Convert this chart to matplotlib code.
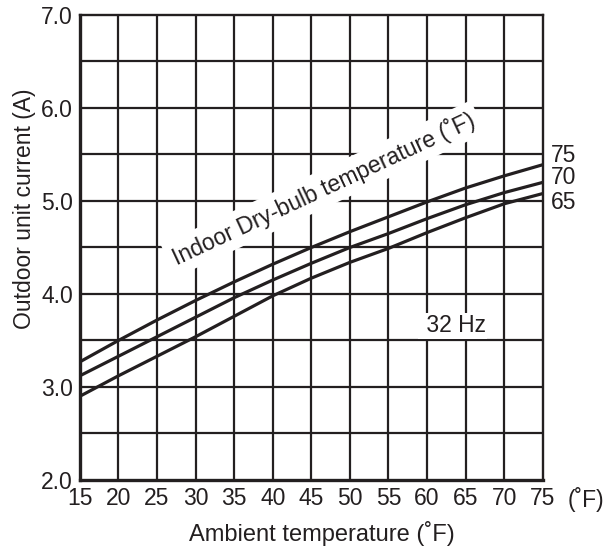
import matplotlib
matplotlib.use('Agg')
import matplotlib.pyplot as plt

plt.rcParams['font.family'] = ['Liberation Sans', 'DejaVu Sans']

# 외기 온도 (°F)
ambient = [15, 20, 25, 30, 35, 40, 45, 50, 55, 60, 65, 70, 75]
# 실내 건구 온도별 실외기 전류 (A)
current_75 = [3.27, 3.50, 3.72, 3.93, 4.13, 4.32, 4.50, 4.67, 4.83, 4.99, 5.14, 5.27, 5.39]
current_70 = [3.12, 3.33, 3.54, 3.75, 3.96, 4.15, 4.33, 4.50, 4.65, 4.81, 4.96, 5.09, 5.20]
current_65 = [2.90, 3.12, 3.33, 3.54, 3.76, 3.98, 4.17, 4.34, 4.49, 4.66, 4.82, 4.97, 5.08]
curve_labels = ['75', '70', '65']
label_y = [5.49, 5.25, 4.98]

x_ticks = [15, 20, 25, 30, 35, 40, 45, 50, 55, 60, 65, 70, 75]
y_ticks = [2.0, 3.0, 4.0, 5.0, 6.0, 7.0]
y_minor = [2.5, 3.5, 4.5, 5.5, 6.5]

ink = '#231f20'
fs = 16.5
fig = plt.figure(figsize=(6.14, 5.49), dpi=100)
ax = fig.add_axes([0.130, 0.1257, 0.754, 0.847])

# 격자
for x in x_ticks[1:-1]:
    ax.axvline(x, color=ink, lw=1.6, zorder=1)
for y in y_ticks[1:-1] + y_minor:
    ax.axhline(y, color=ink, lw=1.6, zorder=1)

# 곡선
for ys in [current_75, current_70, current_65]:
    ax.plot(ambient, ys, color=ink, lw=2.3, zorder=4, solid_capstyle='butt')

for lab, ly in zip(curve_labels, label_y):
    ax.text(76.0, ly, lab, fontsize=fs, ha='left', va='center', color=ink,
            clip_on=False)

ax.text(46.55, 5.13, 'Indoor Dry-bulb temperature (˚F)', fontsize=fs, rotation=25,
        ha='center', va='center', rotation_mode='anchor', color=ink, zorder=3,
        bbox=dict(facecolor='white', edgecolor='none', pad=4))
ax.text(67.6, 3.656, ' 32 Hz', fontsize=fs, ha='right', va='center', color=ink,
        zorder=3, bbox=dict(facecolor='white', edgecolor='none', pad=1))

ax.set_xlim(15, 75)
ax.set_ylim(2, 7)
ax.set_xticks(x_ticks)
ax.set_xticklabels([str(v) for v in x_ticks], fontsize=fs, color=ink)
ax.set_yticks(y_ticks)
ax.set_yticklabels(['%.1f' % v for v in y_ticks], fontsize=fs, color=ink)
xpad = 5
ax.tick_params(axis='x', length=0, pad=xpad)
ax.tick_params(axis='y', length=0, pad=5)
ax.annotate('(˚F)', xy=(78.2, 0), xycoords=('data', 'axes fraction'),
            xytext=(0, -xpad), textcoords='offset points',
            fontsize=fs, ha='left', va='top', color=ink, annotation_clip=False)

ax.set_xlabel('Ambient temperature (˚F)', fontsize=17, color=ink)
ax.xaxis.set_label_coords(0.523, -0.088)
ax.set_ylabel('Outdoor unit current (A)', fontsize=16.5, color=ink)
ax.yaxis.set_label_coords(-0.095, 0.583)

for side in ['left', 'bottom']:
    ax.spines[side].set_linewidth(2.4)
for side in ['top', 'right']:
    ax.spines[side].set_linewidth(1.7)
for s in ax.spines.values():
    s.set_color(ink)
    s.set_zorder(5)

fig.savefig('out.png', dpi=100)
